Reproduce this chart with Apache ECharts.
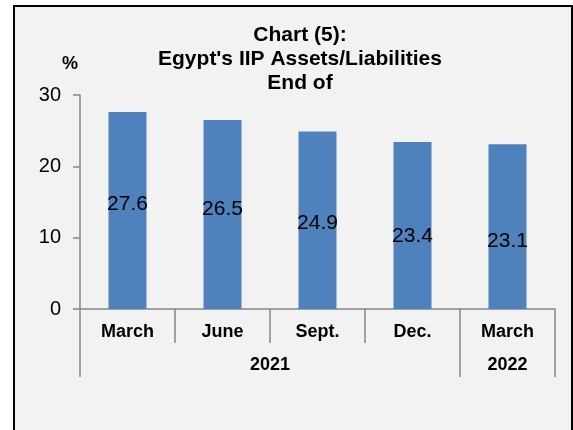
<!DOCTYPE html>
<html>
<head>
<meta charset="utf-8">
<script src="https://cdn.jsdelivr.net/npm/echarts@6/dist/echarts.min.js"></script>
<style>
  html, body { margin: 0; padding: 0; background: #ffffff; }
  #chart { width: 573px; height: 430px; }
</style>
</head>
<body>
<div id="chart"></div>
<script>
// Quarter-end months and the ratio of IIP assets to liabilities (%)
const months = ['March', 'June', 'Sept.', 'Dec.', 'March'];
const ratios = [27.6, 26.5, 24.9, 23.4, 23.1];
// Years grouping the months: label and number of months covered
const yearLabels = ['2021', '2022'];
const yearSpans = [4, 1];
// Value axis ticks
const yTicks = [0, 10, 20, 30];
// Title lines
const titleLines = ['Chart (5):', "Egypt's IIP Assets/Liabilities", 'End of'];

const AXIS_GREY = '#868686';
const FONT = 'Arial, "Liberation Sans", sans-serif';

// Year row: a half-step point axis (2n+1 points) so group labels sit
// in the middle of their span and separators fall on month boundaries.
const yearAxisData = [];
for (let i = 0; i <= months.length * 2; i++) yearAxisData.push('');
const yearBoundary = new Set([0]);
let start = 0;
yearLabels.forEach((y, k) => {
  yearAxisData[2 * start + yearSpans[k]] = y;
  start += yearSpans[k];
  yearBoundary.add(2 * start);
});

// Small vertical nudges for the value labels inside the bars
const labelNudge = [-6, -5, 3, 11, 15];

const chart = echarts.init(document.getElementById('chart'), null, { renderer: 'canvas' });
chart.setOption({
  animation: false,
  backgroundColor: '#ffffff',
  textStyle: { fontFamily: FONT },
  graphic: [{
    type: 'rect',
    z: -10,
    shape: { x: 14, y: 6, width: 558, height: 440 },
    style: { fill: '#f2f2f2', stroke: '#000000', lineWidth: 2 }
  }, {
    type: 'text',
    z: 10,
    x: 300,
    y: 23,
    style: {
      text: titleLines.join('\n'),
      align: 'center',
      verticalAlign: 'top',
      lineHeight: 24,
      fontFamily: FONT,
      fontSize: 21,
      fontWeight: 'bold',
      fill: '#000'
    }
  }],
  grid: { left: 80, right: 18, top: 95, bottom: 121, containLabel: false },
  xAxis: [{
    type: 'category',
    data: months,
    position: 'bottom',
    axisLine: { show: true, lineStyle: { color: AXIS_GREY, width: 1.5 } },
    axisTick: { show: true, length: 34, interval: 0, lineStyle: { color: AXIS_GREY, width: 1.5 } },
    axisLabel: { interval: 0, margin: 14, fontFamily: FONT, fontSize: 18, fontWeight: 'bold', color: '#000' },
    splitLine: { show: false }
  }, {
    type: 'category',
    data: yearAxisData,
    position: 'bottom',
    boundaryGap: false,
    axisLine: { show: false },
    axisTick: {
      show: true, length: 68,
      interval: (i) => yearBoundary.has(i),
      lineStyle: { color: AXIS_GREY, width: 1.5 }
    },
    axisLabel: {
      interval: (i, v) => v !== '',
      margin: 47, fontFamily: FONT, fontSize: 18, fontWeight: 'bold', color: '#000'
    },
    splitLine: { show: false }
  }],
  yAxis: {
    type: 'value',
    min: yTicks[0],
    max: yTicks[yTicks.length - 1],
    interval: yTicks[1] - yTicks[0],
    name: '%',
    nameLocation: 'end',
    nameGap: 22,
    nameTextStyle: { fontFamily: FONT, fontSize: 18, fontWeight: 'bold', color: '#000', padding: [0, 20, 0, 0] },
    axisLine: { show: true, lineStyle: { color: AXIS_GREY, width: 1.5 } },
    axisTick: { show: true, inside: false, length: 7, lineStyle: { color: AXIS_GREY, width: 1.5 } },
    axisLabel: { margin: 19, fontFamily: FONT, fontSize: 20, color: '#000' },
    splitLine: { show: false }
  },
  series: [{
    type: 'bar',
    xAxisIndex: 0,
    barWidth: 38,
    itemStyle: { color: '#4f81bd' },
    label: {
      show: true,
      position: 'inside',
      fontFamily: FONT,
      fontSize: 21,
      color: '#000',
      formatter: (p) => p.value.toFixed(1)
    },
    data: ratios.map((v, i) => ({ value: v, label: { offset: [0, labelNudge[i]] } }))
  }]
});
</script>
</body>
</html>
